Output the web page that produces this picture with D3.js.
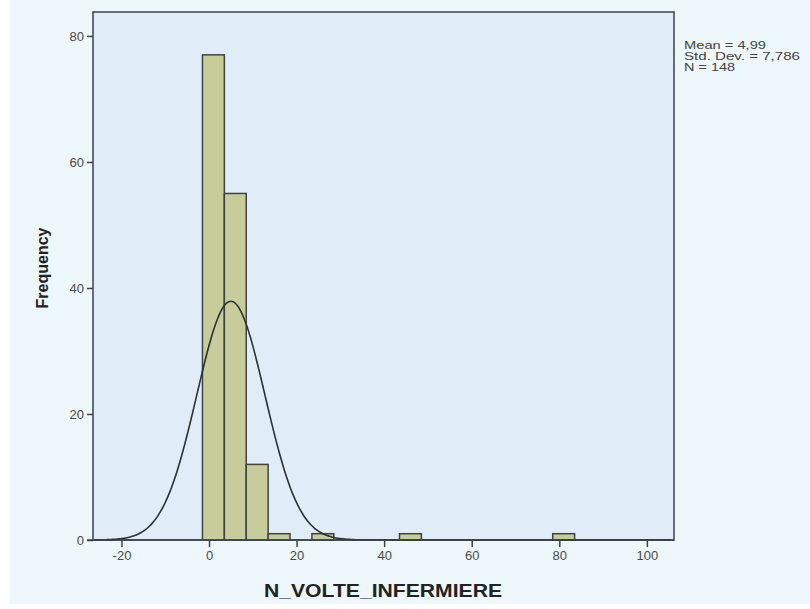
<!DOCTYPE html>
<html><head><meta charset="utf-8">
<script src="https://cdn.jsdelivr.net/npm/d3@7"></script>
<style>body{margin:0;background:#fff}svg{display:block;font-family:"Liberation Sans",Arial,sans-serif}</style>
</head><body><svg id="c" width="810" height="609"></svg>
<script>
// Data
const binStarts = [-1.5, 3.5, 8.5, 13.5, 18.5, 23.5, 28.5, 33.5, 38.5, 43.5, 48.5, 53.5, 58.5, 63.5, 68.5, 73.5, 78.5];
const binCounts = [77, 55, 12, 1, 0, 1, 0, 0, 0, 1, 0, 0, 0, 0, 0, 0, 1];
const binWidth = 5;
const xTicks = [-20, 0, 20, 40, 60, 80, 100];
const yTicks = [0, 20, 40, 60, 80];
const statLines = ["Mean = 4,99", "Std. Dev. = 7,786", "N = 148"];
const statWidths = [82, 116, 51];
const mean = 4.99, sd = 7.786, nObs = 148;

const svg = d3.select("#c");
svg.append("rect").attr("x", 10).attr("y", 0).attr("width", 800).attr("height", 604).attr("fill", "#eef7fb");

const L = 93, R = 674, T = 12, B = 540;
const x = d3.scaleLinear().domain([-26.5, 106.2]).range([L, R]);
const y = d3.scaleLinear().domain([0, 83.8]).range([B, T]);

svg.append("rect").attr("x", L).attr("y", T).attr("width", R - L).attr("height", B - T)
  .attr("fill", "#e0edf9").attr("stroke", "#3d4347").attr("stroke-width", 1.5);

const bins = binStarts.map((s, i) => ({ s, c: binCounts[i] })).filter(d => d.c > 0);
svg.append("g").selectAll("rect").data(bins).join("rect")
  .attr("x", d => x(d.s)).attr("width", d => x(d.s + binWidth) - x(d.s))
  .attr("y", d => y(d.c)).attr("height", d => y(0) - y(d.c))
  .attr("fill", "#c6cd9a").attr("stroke", "#3f4440").attr("stroke-width", 1.5);

// fitted normal curve from the displayed statistics
const curvePts = d3.range(-26, 106, 0.5).map(v => [v, nObs * binWidth / (sd * Math.sqrt(2 * Math.PI)) * Math.exp(-0.5 * ((v - mean) / sd) ** 2)]);
svg.append("path").datum(curvePts)
  .attr("d", d3.line().x(d => x(d[0])).y(d => y(d[1])).curve(d3.curveBasis))
  .attr("fill", "none").attr("stroke", "#2b3136").attr("stroke-width", 1.6);

const xa = svg.append("g").attr("transform", `translate(0,${B})`)
  .call(d3.axisBottom(x).tickValues(xTicks).tickSize(7).tickPadding(4).tickFormat(d => String(d)));
const ya = svg.append("g").attr("transform", `translate(${L},0)`)
  .call(d3.axisLeft(y).tickValues(yTicks).tickSize(6).tickPadding(3).tickFormat(d => String(d)));
[xa, ya].forEach(a => {
  a.select(".domain").remove();
  a.selectAll("line").attr("stroke", "#3d4347").attr("stroke-width", 1.5);
  a.selectAll("text").attr("fill", "#4a4a4a").style("font-size", "13px");
});
// baseline extends under the 0 tick
svg.append("line").attr("x1", L - 6).attr("x2", R).attr("y1", B).attr("y2", B).attr("stroke", "#3d4347").attr("stroke-width", 1.5);

svg.append("text").attr("x", 383).attr("y", 597).attr("text-anchor", "middle")
  .attr("textLength", 238).attr("lengthAdjust", "spacingAndGlyphs")
  .style("font-size", "19px").style("font-weight", "bold").attr("fill", "#222").text("N_VOLTE_INFERMIERE");
svg.append("text").attr("transform", "translate(48,268) rotate(-90)").attr("text-anchor", "middle")
  .style("font-size", "16px").style("font-weight", "bold").attr("fill", "#222").text("Frequency");

svg.append("g").selectAll("text").data(statLines).join("text")
  .attr("x", 684).attr("y", (d, i) => 49 + i * 11)
  .attr("textLength", (d, i) => statWidths[i]).attr("lengthAdjust", "spacingAndGlyphs")
  .style("font-size", "11px").attr("fill", "#444").text(d => d);
</script></body></html>
